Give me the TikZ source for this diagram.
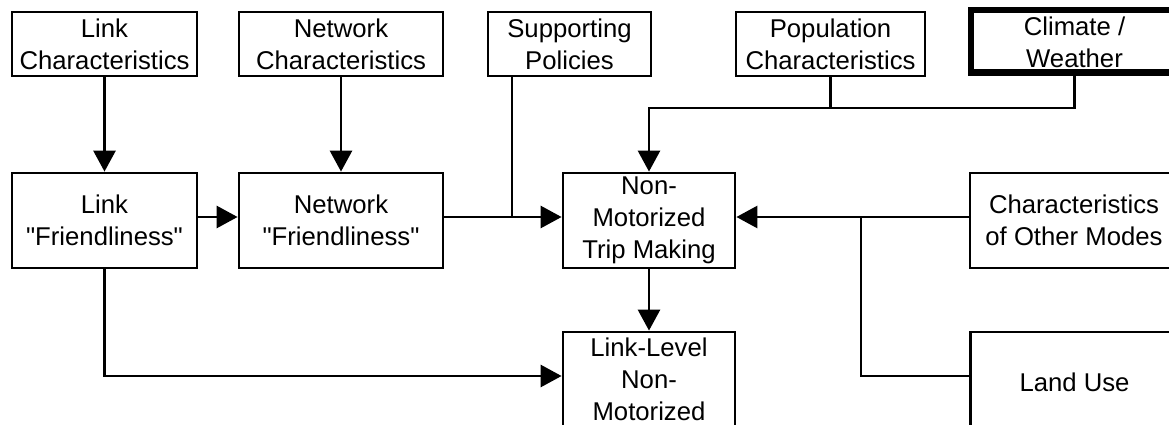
\documentclass[tikz,border=0pt]{standalone}
\usepackage{fontspec}
\setmainfont{Liberation Sans}[Ligatures=TeXOff]
\usetikzlibrary{arrows.meta}

\begin{document}
\begin{tikzpicture}[
    x=1pt,
    y=-1pt,
    txt/.style={
        align=center,
        inner sep=0pt,
        font=\fontsize{25.7pt}{32pt}\selectfont
    },
    box/.style={
        txt,
        draw,
        line width=2.8pt
    },
    heavy box/.style={
        box,
        line width=6.5pt
    },
    link/.style={
        line width=2.8pt
    },
    flow/.style={
        link,
        -{Triangle[length=21pt,width=22pt]}
    }
]

\useasboundingbox (0,0) rectangle (1169,425);
\clip (0,0) rectangle (1169,425);

%------------------------------------------------
% Top row: outside factors
%------------------------------------------------
\node[box, minimum width=185pt, minimum height=64pt]
    (linkchar) at (104.5,44) {Link\\Characteristics};
\node[box, minimum width=204pt, minimum height=64pt]
    (netchar) at (341,44) {Network\\Characteristics};
\node[box, minimum width=163pt, minimum height=64pt]
    (policies) at (569.5,44) {Supporting\\Policies};
\node[box, minimum width=189pt, minimum height=64pt]
    (population) at (830.5,44) {Population\\Characteristics};
\node[heavy box, minimum width=207pt, minimum height=62.5pt]
    (climate) at (1074.5,41.5) {};
\node[txt] (climatetext) at ([yshift=-0.8pt]climate.center)
    {Climate /\\Weather};

%------------------------------------------------
% Middle row
%------------------------------------------------
\node[box, minimum width=185pt, minimum height=95pt]
    (linkfriendly) at (104.5,220.5) {Link\\"Friendliness"};
\node[box, minimum width=204pt, minimum height=95pt]
    (netfriendly) at (341,220.5) {Network\\"Friendliness"};
\node[box, minimum width=172pt, minimum height=95pt]
    (tripmaking) at (649,220.5) {Non-\\Motorized\\Trip Making};
\node[box, minimum width=208pt, minimum height=95pt]
    (othermodes) at (1074,220.5) {Characteristics\\of Other Modes};

%------------------------------------------------
% Bottom row (cut off by the frame)
%------------------------------------------------
\node[box, minimum width=172pt, minimum height=100pt]
    (linklevel) at (649,382) {};
\node[txt, anchor=north] (linkleveltext)
    at ([yshift=-7pt]linklevel.north) {Link-Level\\Non-\\Motorized};
\node[box, minimum width=208pt, minimum height=100pt]
    (landuse) at (1074.5,382) {Land Use};

%------------------------------------------------
% Connectors
%------------------------------------------------
\coordinate (policyjoin) at (512,217);
\coordinate (modejoin) at (861,217);
\coordinate (topbus) at (0,108);
\coordinate (midbus) at (0,217);
\coordinate (lowbus) at (0,376);

\draw[flow] (linkchar.south) -- (linkfriendly.north);
\draw[flow] (netchar.south) -- (netfriendly.north);
\draw[flow] (linkfriendly.east |- midbus) -- (netfriendly.west |- midbus);
\draw[flow] (netfriendly.east |- midbus) -- (tripmaking.west |- midbus);
\draw[link] (policies.south -| policyjoin) -- (policyjoin);

\draw[link] (population.south) -- (population.south |- topbus);
\draw[flow] (climate.south) -- (climate.south |- topbus)
    -| (tripmaking.north);

\draw[flow] (othermodes.west |- midbus) -- (tripmaking.east |- midbus);
\draw[link] (modejoin) |- (landuse.west |- lowbus);

\draw[flow] (tripmaking.south) -- (linklevel.north);
\draw[flow] (linkfriendly.south) |- (linklevel.west |- lowbus);

\end{tikzpicture}
\end{document}
